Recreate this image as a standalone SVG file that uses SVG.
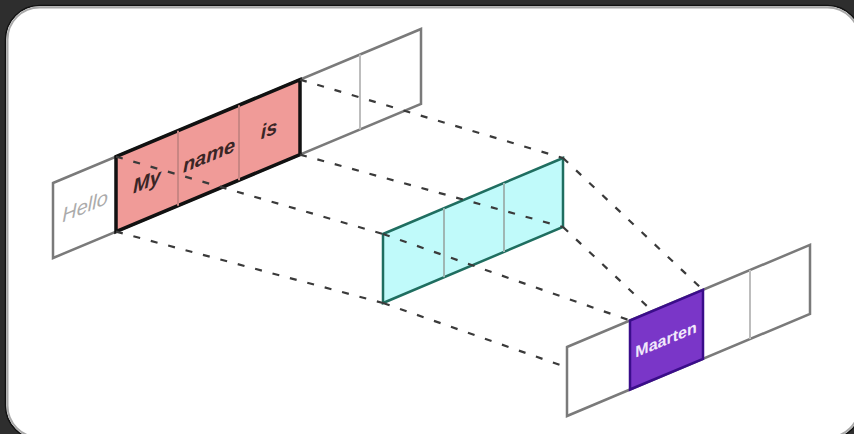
<svg xmlns="http://www.w3.org/2000/svg" width="854" height="434" viewBox="0 0 854 434">
  <style>
    .cell { fill: #ffffff; stroke: #7a7a7a; stroke-width: 2.5; stroke-linejoin: miter; }
    .div { stroke: #bdbdbd; stroke-width: 2; fill: none; }
    .dash { stroke: #3a3a3a; stroke-width: 2.2; stroke-dasharray: 7 11; fill: none; }
    .lbl { font-family: "Liberation Sans", Arial, sans-serif; text-anchor: middle; }
  </style>

  <!-- frame -->
  <rect x="0" y="0" width="854" height="434" fill="#2e2e2e"/>
  <rect x="5.5" y="5.5" width="856" height="434" rx="34" fill="#ffffff" stroke="#111111" stroke-width="1.5"/>
  <rect x="7.5" y="7.5" width="852" height="430" rx="32" fill="none" stroke="#a9a9a9" stroke-width="2"/>

  <!-- input tokens -->
  <g id="input-strip">
    <polygon class="cell" points="53,183 421,29 421,104 53,258"/>
    <line class="div" x1="360" y1="54.5" x2="360" y2="129.5"/>
    <g id="tok-hello">
      <text class="lbl" transform="translate(85,213) skewY(-22.7)" font-size="20" font-style="italic" fill="#ababab">Hello</text>
    </g>
    <g id="tok-highlight">
      <polygon points="116,156.6 300,79.6 300,154.6 116,231.6" fill="#f09b98" stroke="#111111" stroke-width="3.5"/>
      <line x1="178" y1="130.7" x2="178" y2="205.7" stroke="#c98683" stroke-width="2"/>
      <line x1="239" y1="105.2" x2="239" y2="180.2" stroke="#c98683" stroke-width="2"/>
      <text class="lbl" transform="translate(147,188) skewY(-22.7)" font-size="20" font-style="italic" font-weight="bold" fill="#3a2626">My</text>
      <text class="lbl" transform="translate(209,162) skewY(-22.7)" font-size="20" font-style="italic" font-weight="bold" fill="#3a2626">name</text>
      <text class="lbl" transform="translate(269,136) skewY(-22.7)" font-size="20" font-style="italic" font-weight="bold" fill="#3a2626">is</text>
    </g>
  </g>

  <!-- hidden layer -->
  <g id="hidden-strip">
    <polygon points="383,234 563,158 563,227 383,303" fill="#c0fafa" stroke="#1f6e60" stroke-width="2.5"/>
    <line x1="444" y1="208.2" x2="444" y2="277.2" stroke="#9fb6b3" stroke-width="2"/>
    <line x1="504" y1="182.9" x2="504" y2="251.9" stroke="#9fb6b3" stroke-width="2"/>
  </g>

  <!-- projections -->
  <g id="connectors">
    <line class="dash" x1="300" y1="79.6" x2="563" y2="158"/>
    <line class="dash" x1="300" y1="154.6" x2="563" y2="227"/>
    <line class="dash" x1="116" y1="156.6" x2="383" y2="234"/>
    <line class="dash" x1="116" y1="231.6" x2="383" y2="303"/>
    <line class="dash" x1="563" y1="158" x2="703" y2="289.9"/>
    <line class="dash" x1="563" y1="227" x2="703" y2="358.9"/>
    <line class="dash" x1="383" y1="234" x2="630" y2="320.5"/>
    <line class="dash" x1="383" y1="303" x2="630" y2="389.5"/>
  </g>

  <!-- output tokens -->
  <g id="output-strip">
    <polygon class="cell" points="567,347 810,244.9 810,313.9 567,416"/>
    <line class="div" x1="750" y1="270.1" x2="750" y2="339.1"/>
    <g id="tok-maarten">
      <polygon points="630,320.5 703,289.9 703,358.9 630,389.5" fill="#7a36c8" stroke="#3a0d8a" stroke-width="2.5"/>
      <text class="lbl" transform="translate(666,345) skewY(-22.7)" font-size="16" font-weight="bold" fill="#f1e8fb">Maarten</text>
    </g>
  </g>
</svg>
